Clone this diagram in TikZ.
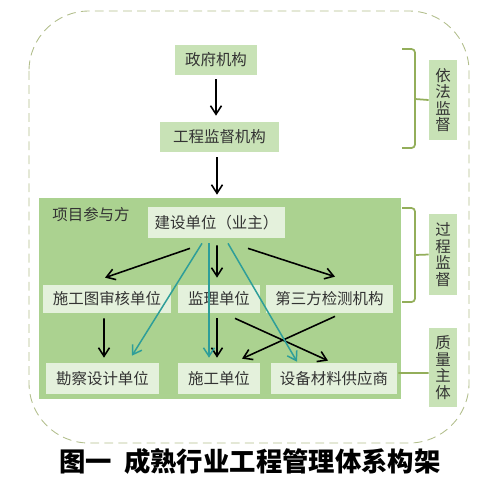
\documentclass[tikz,border=0pt]{standalone}
\usepackage{fontspec}
\setmainfont{Noto Sans CJK SC}
\usepackage{tikz}
\usetikzlibrary{arrows.meta,calc}
\definecolor{boxgreen}{HTML}{C8E2B6}
\definecolor{projgreen}{HTML}{ABD290}
\definecolor{paleGreen}{HTML}{E4F1DC}
\definecolor{braceolive}{HTML}{93AE5A}
\definecolor{dashgray}{HTML}{B2BE8C}
\definecolor{tealarr}{HTML}{2E9E99}
\definecolor{txtgray}{HTML}{333333}

\begin{document}
\begin{tikzpicture}[x=0.02cm, y=-0.02cm,
  font=\fontsize{8.8}{9.4}\selectfont, text=txtgray,
  govbox/.style={fill=boxgreen, inner sep=0pt},
  partbox/.style={fill=paleGreen, inner sep=0pt},
  sidebox/.style={fill=boxgreen, inner sep=0pt, minimum width=0.56cm, align=center},
  arr/.style={-{Straight Barb[length=0.17cm,width=0.22cm]}, line width=0.9pt, black},
  tarr/.style={-{Straight Barb[length=0.17cm,width=0.22cm]}, line width=0.85pt, tealarr},
  brace/.style={draw=braceolive, line width=1pt, rounded corners=2pt}]
  %% Canvas
  \useasboundingbox (0,0) rectangle (499,488);
  %% Outer dashed frame
  \draw[dashgray, line width=0.5pt, dash pattern=on 5pt off 3pt, rounded corners=1.2cm]
    (29,11) rectangle (469,443);

  %% Supervising bodies
  \node[govbox, minimum width=1.64cm, minimum height=0.6cm] (gov) at (216,60) {政府机构};
  \node[govbox, minimum width=2.38cm, minimum height=0.6cm] (sup) at (219.5,137) {工程监督机构};

  %% Project participants
  \node[fill=projgreen, inner sep=0pt, minimum width=7.24cm, minimum height=4.02cm] (proj) at (220,298.5) {};
  \node (projlbl) at (91,215) {项目参与方};
  \node[partbox, minimum width=2.74cm, minimum height=0.62cm] (owner) at (216.5,222.5) {建设单位（业主）};
  \node[partbox, minimum width=2.56cm, minimum height=0.56cm] (review) at (107,299) {施工图审核单位};
  \node[partbox, minimum width=1.64cm, minimum height=0.56cm] (supv) at (219,299) {监理单位};
  \node[partbox, minimum width=2.54cm, minimum height=0.56cm] (test) at (329.5,299) {第三方检测机构};
  \node[partbox, minimum width=2.26cm, minimum height=0.62cm] (survey) at (102.5,378.5) {勘察设计单位};
  \node[partbox, minimum width=1.64cm, minimum height=0.62cm] (constr) at (219,378.5) {施工单位};
  \node[partbox, minimum width=2.52cm, minimum height=0.62cm] (supply) at (334,378.5) {设备材料供应商};

  %% Side labels
  \node[sidebox, minimum height=1.6cm] (law) at (443,100) {依\\法\\监\\督};
  \node[sidebox, minimum height=1.62cm] (proc) at (443,254.5) {过\\程\\监\\督};
  \node[sidebox, minimum height=1.58cm] (qual) at (443,367.5) {质\\量\\主\\体};

  %% Brackets
  \draw[brace] (402,49) -- (415,49) -- (415,148) -- (402,148);
  \draw[brace] (415,99) -- (law.west);
  \draw[brace] (402,208) -- (415,208) -- (415,302) -- (402,302);
  \draw[brace] (415,255) -- (proc.west);
  \draw[brace] ($(supply.east)+(1,-5.5)$) -- ($(qual.west)+(0,5.5)$);

  %% Black arrows
  \draw[arr] ($(gov.south)+(0,4)$) -- ($(sup.north)+(-3.5,-6)$);
  \draw[arr] ($(sup.south)+(-2.5,5)$) -- ($(proj.north)+(-3,-3)$);
  \draw[arr] ($(owner.south)+(-26.5,10)$) -- ($(review.north)+(-2,-7)$);
  \draw[arr] ($(owner.south)+(0.5,7)$) -- ($(supv.north)+(-2,-7)$);
  \draw[arr] ($(owner.south)+(31.5,10)$) -- ($(test.north)+(5.5,-8)$);
  \draw[arr] ($(review.south)+(-3,5)$) -- ($(survey.north)+(1.5,-5)$);
  \draw[arr] ($(supv.south)+(-2,5)$) -- ($(constr.north)+(-2,-5)$);
  \draw[arr] ($(supv.south)+(16,5)$) -- ($(supply.north)+(-6,-2)$);
  \draw[arr] ($(test.south)+(5.5,3)$) -- ($(constr.north)+(23,-4)$);

  %% Teal arrows
  \draw[tarr] ($(owner.south)+(-14.5,5)$) -- ($(survey.north)+(29.5,-7)$);
  \draw[tarr] ($(owner.south)+(-7.5,5)$) -- ($(constr.north)+(-10,-5)$);
  \draw[tarr] ($(owner.south)+(11.5,5)$) -- ($(supply.north)+(-37,-1)$);

  %% Caption
  \node[font=\fontsize{15}{16}\bfseries\selectfont, text=black] (cap) at (250,461) {图一\ \ 成熟行业工程管理体系构架};
\end{tikzpicture}
\end{document}
